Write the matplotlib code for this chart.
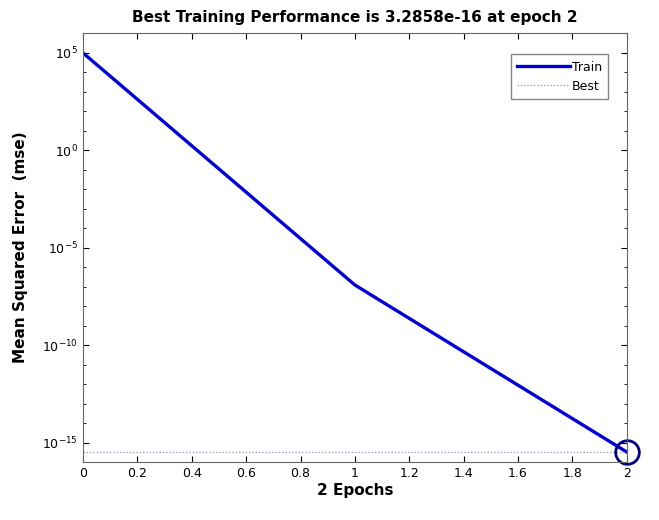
import numpy as np
from matplotlib import pyplot as plt
from matplotlib.ticker import LogLocator, NullFormatter

epochs = [0, 1, 2]
train_mse = [9.5e4, 1.2e-7, 3.2858e-16]
best_epoch = 2
best_mse = 3.2858e-16
xticks = [0, 0.2, 0.4, 0.6, 0.8, 1, 1.2, 1.4, 1.6, 1.8, 2]

fig = plt.figure(figsize=(6.59, 5.2), dpi=100)
ax = fig.add_axes([0.126, 0.1115, 0.825, 0.825])

ax.semilogy(epochs, train_mse, color=(0.0, 0.0, 0.85), lw=2.4, label='Train')
ax.axhline(best_mse, color=(0.55, 0.55, 0.8), lw=0.9, ls=':', label='Best')
ax.plot(best_epoch, best_mse, 'o', ms=17, mfc='none', mec=(0.0, 0.0, 0.5), mew=2, clip_on=False)

ax.set_xlim(0, 2)
ax.set_ylim(1e-16, 1e6)
ax.set_xticks(xticks)
ax.set_xticklabels(['0', '0.2', '0.4', '0.6', '0.8', '1', '1.2', '1.4', '1.6', '1.8', '2'], fontsize=9)
ax.set_yticks([1e5, 1e0, 1e-5, 1e-10, 1e-15])
ax.yaxis.set_minor_locator(LogLocator(base=10, subs=[1.0], numticks=40))
ax.yaxis.set_minor_formatter(NullFormatter())
ax.tick_params(axis='both', which='both', direction='in', top=True, right=True, labelsize=9)
ax.tick_params(which='major', length=4)
ax.tick_params(which='minor', length=2)
for s in ax.spines.values():
    s.set_color('0.4')

ax.set_title('Best Training Performance is 3.2858e-16 at epoch 2', fontsize=11, fontweight='bold', pad=8)
ax.set_xlabel('2 Epochs', fontsize=11, fontweight='bold', labelpad=2)
ax.set_ylabel('Mean Squared Error  (mse)', fontsize=11, fontweight='bold', labelpad=10)

leg = ax.legend(loc='upper right', fontsize=9, frameon=True, fancybox=False,
                handlelength=4.2, borderpad=0.5, labelspacing=0.5, handletextpad=0.2,
                bbox_to_anchor=(0.978, 0.965))
leg.get_frame().set_edgecolor('0.4')

plt.savefig('out.png', dpi=100)
